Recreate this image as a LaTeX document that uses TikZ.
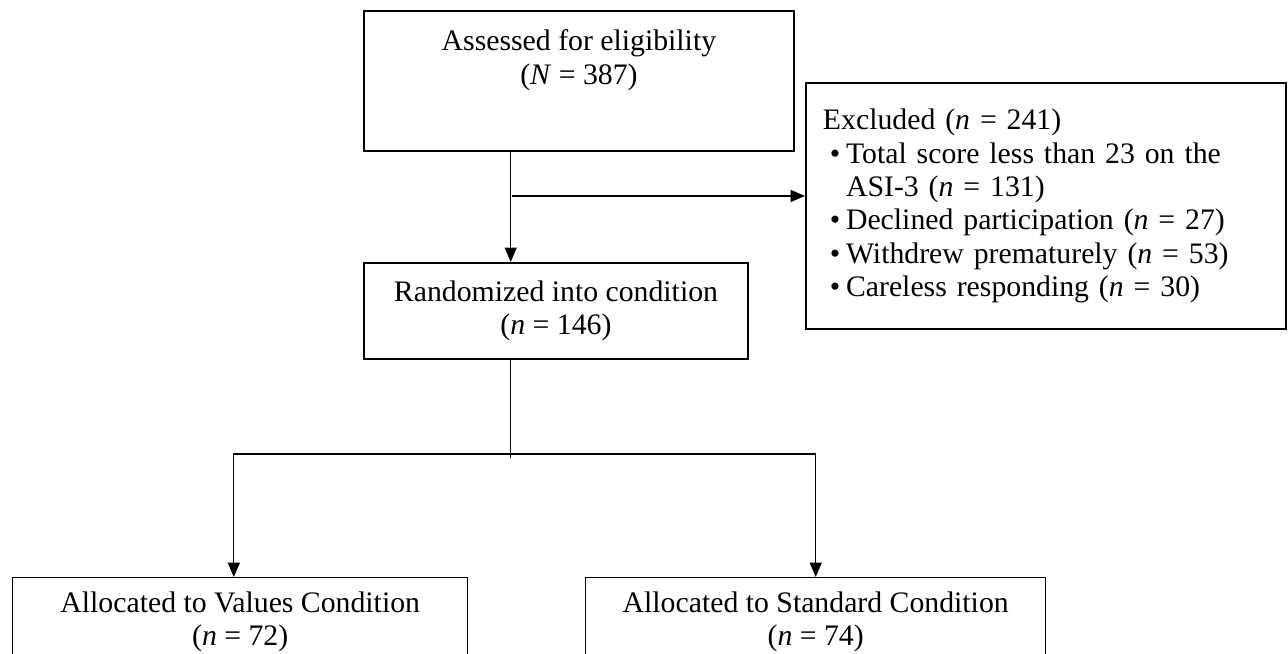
\documentclass[tikz,border=0pt]{standalone}
\usepackage{fontspec}
\setmainfont{Liberation Serif}
\usetikzlibrary{arrows.meta, positioning, calc}
\newcommand{\pxu}{0.42pt}
\newcommand{\toptext}[3]{\parbox[t][#1][t]{#2}{\centering #3}}
\newcommand{\exclitem}[1]{\par\hangindent=9.7pt\hangafter=1\noindent\makebox[9.7pt][l]{\hspace{2.9pt}\textbullet}#1}

\begin{document}
\begin{tikzpicture}[x=\pxu, y=-\pxu,
  box/.style={draw, line width=0.8pt, inner sep=0pt, font=\fontsize{12.5}{14}\selectfont},
  thinbox/.style={box, line width=0.6pt},
  link/.style={line width=0.55pt},
  arrow/.style={link, -{Triangle[length=6pt, width=5pt]}}]

  \useasboundingbox (0,0) rectangle (1288,654);

  \node[box, anchor=north west, inner ysep=8pt] (assess) at (363,10)
    {\toptext{42.8pt}{180.6pt}{Assessed for eligibility\\(\textit{N} = 387)}};

  \node[box, anchor=north west, minimum width=201.6pt, minimum height=103.3pt,
    text width=187.3pt, inner xsep=7.1pt] (excl) at (805,82) {\raggedright
    Excluded (\textit{n} = 241)
    \exclitem{Total score less than 23 on the\newline ASI-3 (\textit{n} = 131)}
    \exclitem{Declined participation (\textit{n} = 27)}
    \exclitem{Withdrew prematurely (\textit{n} = 53)}
    \exclitem{Careless responding (\textit{n} = 30)}\par};

  \node[box, anchor=north west, minimum width=161.3pt, minimum height=40.3pt,
    align=center] (rand) at (363,262) {Randomized into condition\\(\textit{n} = 146)};

  \node[thinbox, anchor=north west, inner ysep=6pt] (vals) at (12,577)
    {\toptext{60pt}{191.1pt}{Allocated to Values Condition\\(\textit{n} = 72)}};
  \node[thinbox, anchor=north west, inner ysep=6pt] (stand) at (585,577)
    {\toptext{60pt}{193.2pt}{Allocated to Standard Condition\\(\textit{n} = 74)}};

  % assessed -> randomized, with the exclusions branching off
  \coordinate (split) at ($(assess.south west)!0.342!(assess.south east)$);
  \coordinate (tap) at ($(split)!0.4!(split |- rand.north)$);
  \draw[arrow] (split) -- (split |- rand.north);
  \draw[arrow] ([xshift=\pxu]tap) -- (tap -| excl.west);

  % randomized -> the two conditions
  \coordinate (rsplit) at (split |- rand.south);
  \coordinate (fork) at ($(rsplit)+(0,94)$);
  \coordinate (ldrop) at ($(vals.north west)!0.486!(vals.north east)$);
  \coordinate (rdrop) at (stand.north);
  \draw[link] (rsplit) -- ($(fork)+(0,4)$);
  \draw[arrow] (fork) -| (ldrop);
  \draw[arrow] (fork) -| (rdrop);
\end{tikzpicture}
\end{document}
